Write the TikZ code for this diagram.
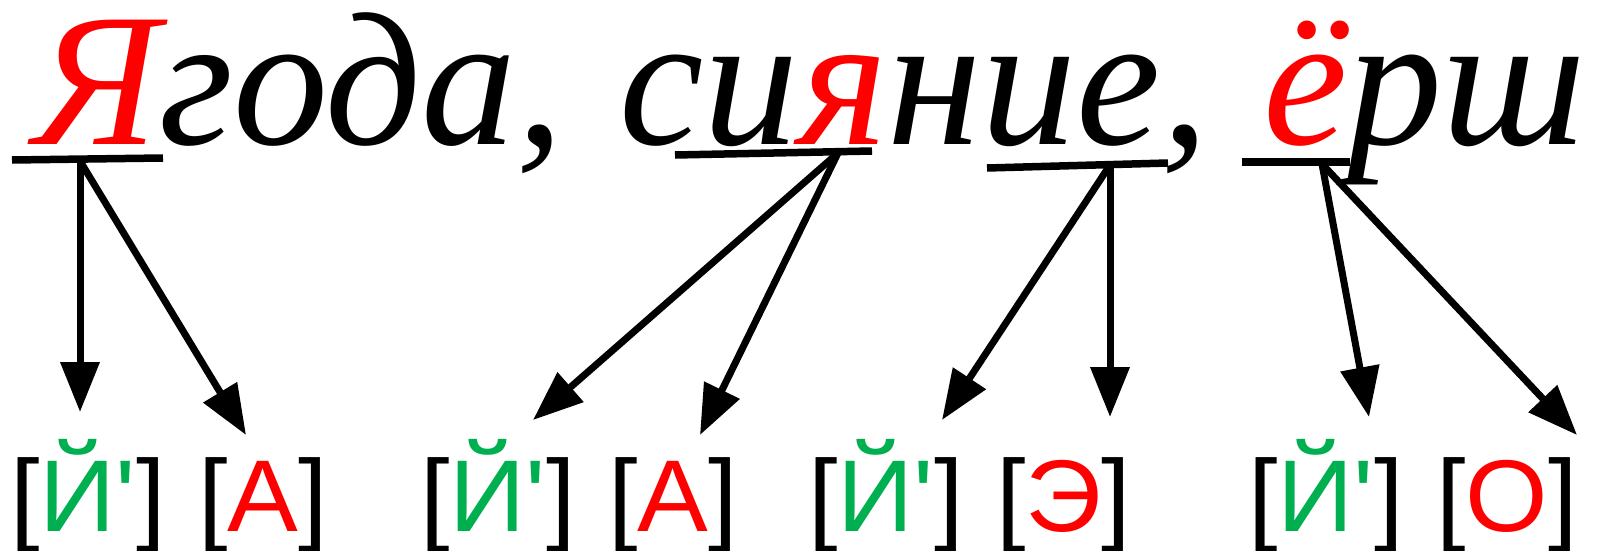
\documentclass[tikz,border=0pt]{standalone}
\usepackage{fontspec}
\setmainfont{Liberation Serif}
\newfontfamily\arial{Liberation Sans}
\usepackage{xcolor}
\usepackage{graphicx}
\usetikzlibrary{arrows.meta}
\definecolor{sgreen}{HTML}{00B050}

\begin{document}
\begin{tikzpicture}[x=1pt,y=-1pt]

\tikzstyle{word} =
[inner sep=0pt,
anchor=base west,
text height=140pt,
text depth=40pt,
font=\fontsize{190}{200}\selectfont\itshape]

\tikzstyle{sound} =
[inner sep=0pt,
anchor=base west,
font=\fontsize{102}{110}\selectfont\arial]

\tikzstyle{bar} = [line width=7.5pt]

\tikzstyle{link} =
[line width=7pt,
-{Triangle[length=50pt,width=38pt]}]

\useasboundingbox (0,0) rectangle (1598,551);

\node (words) [word] at (34,144)
{\textcolor{red}{Я}года,\hspace{8pt} си\textcolor{red}{я}ние,\hspace{7pt} \textcolor{red}{ё}рш};

\node (p1) [sound] at (10,531)
{\scalebox{1.04}[1]{[\textcolor{sgreen}{Й\textquotesingle}]\hspace{3pt} [\textcolor{red}{А}]}};
\node (p2) [sound] at (420,531)
{\scalebox{1.04}[1]{[\textcolor{sgreen}{Й\textquotesingle}]\hspace{3pt} [\textcolor{red}{А}]}};
\node (p3) [sound] at (808,531)
{\scalebox{1.04}[1]{[\textcolor{sgreen}{Й\textquotesingle}]\hspace{3pt} [\textcolor{red}{Э}]}};
\node (p4) [sound] at (1248,531)
{\scalebox{1.04}[1]{[\textcolor{sgreen}{Й\textquotesingle}]\hspace{3pt} [\textcolor{red}{О}]}};

% underlines
\coordinate (u1a) at (12,160);
\coordinate (u1b) at (163,158);
\coordinate (u2a) at (675,155);
\coordinate (u2b) at (872,151);
\coordinate (u3a) at (987,168);
\coordinate (u3b) at (1168,163);
\coordinate (u4a) at (1242,162);
\coordinate (u4b) at (1350,162);

\draw[bar] (u1a) -- (u1b);
\draw[bar] (u2a) -- (u2b);
\draw[bar] (u3a) -- (u3b);
\draw[bar] (u4a) -- (u4b);

% starts and tips
\coordinate (s1) at (80,161);
\coordinate (s2) at (838,153);
\coordinate (s3) at (1110,165);
\coordinate (s4) at (1322,164);

\coordinate (t1) at (80,412);
\coordinate (t2) at (246,435);
\coordinate (t3) at (533,420);
\coordinate (t4) at (700,435);
\coordinate (t5) at (942,420);
\coordinate (t6) at (1110,417);
\coordinate (t7) at (1369,417);
\coordinate (t8) at (1577,435);

\draw[link] (s1) -- (t1);
\draw[link] (s1) -- (t2);
\draw[link] (s2) -- (t3);
\draw[link] (s2) -- (t4);
\draw[link] (s3) -- (t5);
\draw[link] (s3) -- (t6);
\draw[link] (s4) -- (t7);
\draw[link] (s4) -- (t8);

\end{tikzpicture}
\end{document}
